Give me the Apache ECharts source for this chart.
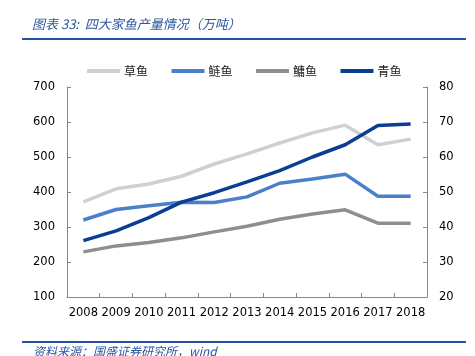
<!DOCTYPE html>
<html>
<head>
<meta charset="utf-8">
<script src="https://cdn.jsdelivr.net/npm/echarts@6/dist/echarts.min.js"></script>
<style>
html,body{margin:0;padding:0;background:#fff;}
#c{width:475px;height:356px;}
</style>
</head>
<body>
<div id="c"></div>
<script>
const years = ['2008','2009','2010','2011','2012','2013','2014','2015','2016','2017','2018'];
const caoyu = [372, 409, 423, 445, 480, 509, 540, 569, 591, 535, 551];
const lianyu = [320, 350, 361, 371, 370, 386, 425, 437, 451, 388, 388];
const yongyu = [229, 246, 256, 269, 286, 302, 322, 337, 349, 311, 311];
const qingyu = [36.1, 38.9, 42.7, 47.1, 49.8, 52.9, 56.1, 60.0, 63.5, 69.0, 69.4];
const leftTicks = [100, 200, 300, 400, 500, 600, 700];
const rightTicks = [20, 30, 40, 50, 60, 70, 80];

const chart = echarts.init(document.getElementById('c'), null, {renderer: 'canvas'});
const axisFont = {fontFamily: 'DejaVu Sans', fontSize: 11.5, color: '#000'};
const cjk = '"Noto Sans CJK SC"';
const blue = '#2B579F';
function mk(name, data, color, yIndex) {
  return {
    name: name, type: 'line', data: data, yAxisIndex: yIndex,
    symbol: 'none', smooth: false,
    lineStyle: {width: 3.5, color: color}, itemStyle: {color: color},
    emphasis: {disabled: true}
  };
}
chart.setOption({
  animation: false,
  backgroundColor: '#fff',
  title: {
    text: '图表 33:  四大家鱼产量情况（万吨）',
    left: 27, top: 13,
    textStyle: {fontFamily: cjk, fontSize: 13, fontStyle: 'italic', fontWeight: 'normal', color: blue}
  },
  graphic: [
    {type: 'line', shape: {x1: 22, y1: 39, x2: 466, y2: 39}, style: {stroke: '#24509E', lineWidth: 2}},
    {type: 'line', shape: {x1: 22, y1: 342, x2: 466, y2: 342}, style: {stroke: '#24509E', lineWidth: 2}},
    {type: 'text', left: 33, top: 345, style: {text: '资料来源：国盛证券研究所，wind', font: 'italic 12px "Noto Sans CJK SC"', fill: blue}}
  ],
  legend: {
    top: 65, left: 87, padding: 0,
    itemWidth: 33, itemHeight: 4, itemGap: 23.5,
    icon: 'rect',
    textStyle: {fontFamily: cjk, fontSize: 12, color: '#222', padding: [0, 0, 0, -1]},
    data: ['草鱼', '鲢鱼', '鳙鱼', '青鱼']
  },
  grid: {left: 67, right: 48, top: 87, bottom: 59, containLabel: false},
  xAxis: {
    type: 'category', data: years, boundaryGap: true,
    axisLine: {lineStyle: {color: '#888', width: 1}},
    axisTick: {show: true, inside: true, length: 4, lineStyle: {color: '#888'}},
    axisLabel: Object.assign({margin: 10, interval: 0}, axisFont),
    splitLine: {show: false}
  },
  yAxis: [
    {
      type: 'value', min: 100, max: 700, interval: 100, position: 'left',
      axisLine: {show: true, lineStyle: {color: '#888'}},
      axisTick: {show: true, inside: true, length: 4, lineStyle: {color: '#888'}},
      axisLabel: Object.assign({margin: 12}, axisFont),
      splitLine: {show: false}
    },
    {
      type: 'value', min: 20, max: 80, interval: 10, position: 'right',
      axisLine: {show: true, lineStyle: {color: '#888'}},
      axisTick: {show: true, inside: true, length: 4, lineStyle: {color: '#888'}},
      axisLabel: Object.assign({margin: 12}, axisFont),
      splitLine: {show: false}
    }
  ],
  series: [
    mk('草鱼', caoyu, '#D0D0D0', 0),
    mk('鲢鱼', lianyu, '#4B80C8', 0),
    mk('鳙鱼', yongyu, '#8E8E8E', 0),
    mk('青鱼', qingyu, '#0B3E93', 1)
  ]
});
</script>
</body>
</html>
